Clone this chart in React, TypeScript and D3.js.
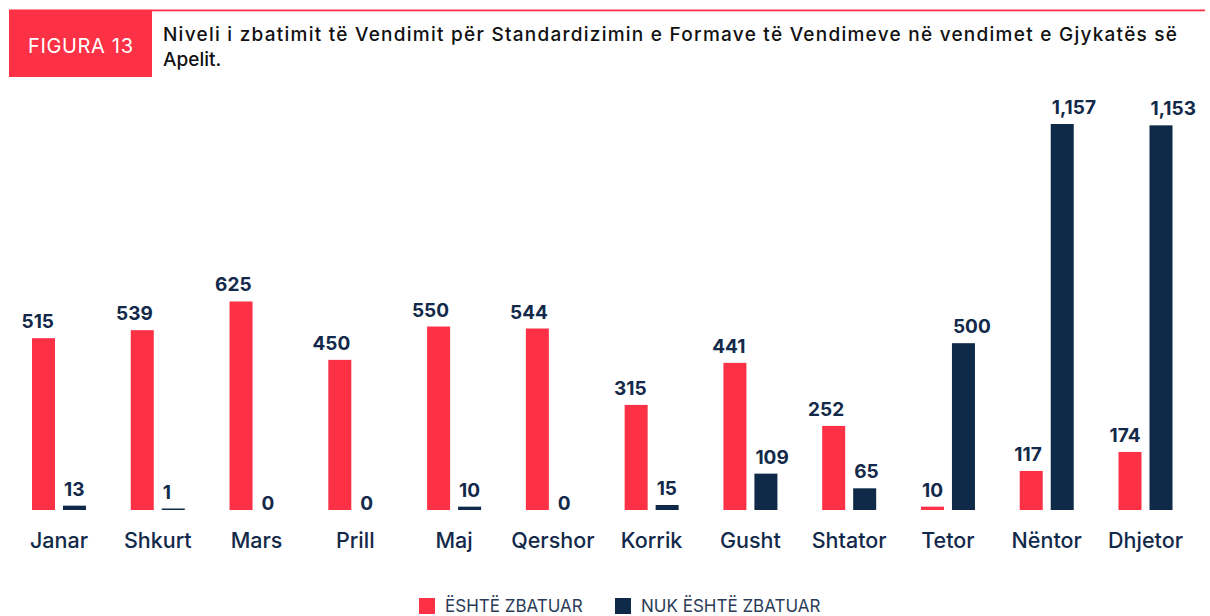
import React from "react";
import * as d3 from "d3";

const months = ["Janar", "Shkurt", "Mars", "Prill", "Maj", "Qershor", "Korrik", "Gusht", "Shtator", "Tetor", "Nëntor", "Dhjetor"];
const zbatuar = [515, 539, 625, 450, 550, 544, 315, 441, 252, 10, 117, 174];
const nukZbatuar = [13, 1, 0, 0, 10, 0, 15, 109, 65, 500, 1157, 1153];
const seriesKeys = ["zbatuar", "nuk"];
const seriesNames = ["ËSHTË ZBATUAR", "NUK ËSHTË ZBATUAR"];
const titleLines = [
  "Niveli i zbatimit të Vendimit për Standardizimin e Formave të Vendimeve në vendimet e Gjykatës së",
  "Apelit.",
];
const figLabel = "FIGURA 13";

const RED = "#fc3146";
const NAVY = "#0e2a48";
const TEXT = "#13294a";
const FONT = "Inter, 'Noto Sans', sans-serif";

export default function App() {
  const W = 1210;
  const H = 616;
  const baseY = 510;

  const x = d3.scalePoint<string>().domain(months).range([59, 1145.5]);
  const inner = d3.scaleBand<string>().domain(seriesKeys).range([-27, 27]).paddingInner(0.258).paddingOuter(0);
  const y = d3.scaleLinear().domain([0, 1157]).range([baseY, 124]);
  const bw = inner.bandwidth();
  const colors = [RED, NAVY];
  const data = [zbatuar, nukZbatuar];

  const legendX = d3.scaleOrdinal<string, number>().domain(seriesNames).range([419, 615]);

  return (
    <svg width={W} height={H} style={{ position: "absolute", left: 0, top: 0, background: "#fff" }} fontFamily={FONT}>
      {/* header */}
      <rect x={9} y={9.5} width={1196} height={1.8} fill={RED} />
      <rect x={9} y={10} width={143} height={67} fill={RED} />
      <text x={28} y={53} fill="#fff" fontSize={20} fontWeight={400} textLength={105} lengthAdjust="spacing">
        {figLabel}
      </text>
      <text x={163} y={41} fill="#111" fontSize={19} fontWeight={500} textLength={1014} lengthAdjust="spacing">
        {titleLines[0]}
      </text>
      <text x={163} y={66} fill="#111" fontSize={19} fontWeight={500}>
        {titleLines[1]}
      </text>

      {/* bars */}
      {months.map((m, i) => (
        <g key={m}>
          {data.map((arr, s) => {
            const v = arr[i];
            const bx = (x(m) as number) + (inner(seriesKeys[s]) as number);
            const top = y(v);
            const h = Math.max(baseY - top, v > 0 ? 1.5 : 0);
            const labelY = v === 0 ? baseY : baseY - h - 10;
            return (
              <g key={s}>
                {h > 0 && <rect x={bx} y={baseY - h} width={bw} height={h} fill={colors[s]} />}
                <text
                  x={s === 0 ? bx + bw - 1 : bx + 1}
                  y={labelY}
                  textAnchor={s === 0 ? "end" : "start"}
                  fill={TEXT}
                  fontSize={19}
                  fontWeight={700}
                >
                  {d3.format(",")(v)}
                </text>
              </g>
            );
          })}
          <text x={x(m) as number} y={548} textAnchor="middle" fill={TEXT} fontSize={21.5} fontWeight={500}>
            {m}
          </text>
        </g>
      ))}

      {/* legend */}
      {seriesNames.map((n, s) => (
        <g key={n}>
          <rect x={legendX(n)} y={598} width={16} height={16} fill={colors[s]} />
          <text x={legendX(n) + 26} y={612} fill="#2a3c57" fontSize={17} fontWeight={400}>
            {n}
          </text>
        </g>
      ))}
    </svg>
  );
}
